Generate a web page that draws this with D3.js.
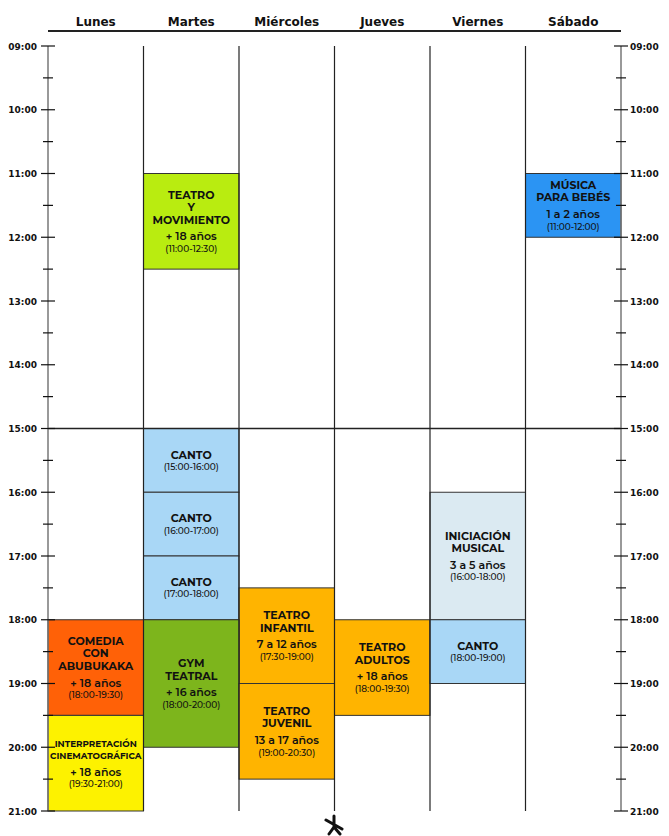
<!DOCTYPE html>
<html lang="es">
<head>
<meta charset="utf-8">
<script src="https://cdn.jsdelivr.net/npm/d3@7"></script>
<style>
  body { margin: 0; background: #fff; }
  text { font-family: "Montserrat", "Inter", "DejaVu Sans", sans-serif; }
  text.hdr { font-family: "DejaVu Sans", sans-serif; }
</style>
</head>
<body>
<script>
// schedule data
var days = ["Lunes", "Martes", "Miércoles", "Jueves", "Viernes", "Sábado"];
var hourTicks = ["09:00","10:00","11:00","12:00","13:00","14:00","15:00","16:00","17:00","18:00","19:00","20:00","21:00"];
var classTitles = [
  ["TEATRO", "Y", "MOVIMIENTO"], ["MÚSICA", "PARA BEBÉS"],
  ["CANTO"], ["CANTO"], ["CANTO"], ["INICIACIÓN", "MUSICAL"],
  ["TEATRO", "INFANTIL"], ["TEATRO", "ADULTOS"], ["CANTO"],
  ["COMEDIA", "CON", "ABUBUKAKA"], ["GYM", "TEATRAL"], ["TEATRO", "JUVENIL"],
  ["INTERPRETACIÓN", "CINEMATOGRÁFICA"]
];
var classAges = ["+ 18 años", "1 a 2 años", "", "", "", "3 a 5 años", "7 a 12 años", "+ 18 años", "", "+ 18 años", "+ 16 años", "13 a 17 años", "+ 18 años"];
var classDay = [1, 5, 1, 1, 1, 4, 2, 3, 4, 0, 1, 2, 0];
var classStart = [11, 11, 15, 16, 17, 16, 17.5, 18, 18, 18, 18, 19, 19.5];
var classEnd = [12.5, 12, 16, 17, 18, 18, 19, 19.5, 19, 19.5, 20, 20.5, 21];
var classColor = ["#b9ec10", "#2b94f3", "#a9d7f6", "#a9d7f6", "#a9d7f6", "#dbeaf2", "#ffb400", "#ffb400", "#a9d7f6", "#ff6107", "#7db51c", "#ffb400", "#fdf200"];

var W = 669, H = 836;
var svg = d3.select("body").append("svg").attr("width", W).attr("height", H);

var x = d3.scaleBand().domain(days).range([48, 621]);
var y = d3.scaleLinear().domain([9, 21]).range([46, 811]);
function fmt(h) { var hh = Math.floor(h), mm = Math.round((h - hh) * 60); return (hh < 10 ? "0" : "") + hh + ":" + (mm < 10 ? "0" : "") + mm; }

// blocks
var classes = classDay.map(function(d, i) { return {i: i, day: days[d], s: classStart[i], e: classEnd[i]}; });
var g = svg.selectAll("g.cls").data(classes).enter().append("g").attr("class", "cls");
g.append("rect")
  .attr("x", function(d) { return x(d.day); })
  .attr("y", function(d) { return y(d.s); })
  .attr("width", x.bandwidth())
  .attr("height", function(d) { return y(d.e) - y(d.s); })
  .attr("fill", function(d) { return classColor[d.i]; })
  .attr("stroke", "#333").attr("stroke-width", 1);

g.each(function(d) {
  var sel = d3.select(this);
  var lines = [];
  classTitles[d.i].forEach(function(t) { lines.push({t: t, size: t.length > 11 ? 8.8 : 11, bold: 700, h: 12.5}); });
  if (classAges[d.i]) lines.push({t: classAges[d.i], size: 11, bold: 600, h: 14, gap: 3});
  lines.push({t: "(" + fmt(d.s) + "-" + fmt(d.e) + ")", size: 9, bold: 500, h: 11});
  var total = d3.sum(lines, function(l) { return l.h + (l.gap || 0); });
  var cy = (y(d.s) + y(d.e)) / 2 - total / 2;
  var cx = x(d.day) + x.bandwidth() / 2;
  lines.forEach(function(l) {
    cy += (l.gap || 0);
    sel.append("text").attr("x", cx).attr("y", cy + l.h * 0.8)
      .attr("text-anchor", "middle").attr("font-size", l.size).attr("font-weight", l.bold)
      .attr("fill", "#111").text(l.t);
    cy += l.h;
  });
});

// column separators
svg.selectAll("line.col").data(days.slice(1)).enter().append("line")
  .attr("x1", function(d) { return x(d); }).attr("x2", function(d) { return x(d); })
  .attr("y1", y(9)).attr("y2", y(21)).attr("stroke", "#222").attr("stroke-width", 1.2);

// 15:00 divider
svg.append("line").attr("x1", 48).attr("x2", 621).attr("y1", y(15)).attr("y2", y(15))
  .attr("stroke", "#222").attr("stroke-width", 1.5);

// headers
svg.append("line").attr("x1", 48).attr("x2", 621).attr("y1", 31).attr("y2", 31)
  .attr("stroke", "#222").attr("stroke-width", 2);
svg.selectAll("text.day").data(days).enter().append("text").attr("class", "hdr")
  .attr("x", function(d) { return x(d) + x.bandwidth() / 2; }).attr("y", 26)
  .attr("text-anchor", "middle").attr("font-size", 12).attr("font-weight", 700)
  .attr("fill", "#111").text(function(d) { return d; });

// time axes
var half = d3.range(9.5, 21, 1);
[48, 621].forEach(function(ax, k) {
  svg.append("line").attr("x1", ax).attr("x2", ax).attr("y1", y(9)).attr("y2", y(21))
    .attr("stroke", "#777").attr("stroke-width", 1.5);
  svg.selectAll(null).data(hourTicks).enter().append("line")
    .attr("x1", ax - 7).attr("x2", ax + 7)
    .attr("y1", function(d, i) { return y(9 + i); }).attr("y2", function(d, i) { return y(9 + i); })
    .attr("stroke", "#111").attr("stroke-width", 1.2);
  svg.selectAll(null).data(half).enter().append("line")
    .attr("x1", ax - 5).attr("x2", ax + 5)
    .attr("y1", function(d) { return y(d); }).attr("y2", function(d) { return y(d); })
    .attr("stroke", "#111").attr("stroke-width", 1.2);
  svg.selectAll(null).data(hourTicks).enter().append("text").attr("class", "hdr")
    .attr("x", k === 0 ? 37 : 630).attr("y", function(d, i) { return y(9 + i) + 3.5; })
    .attr("text-anchor", k === 0 ? "end" : "start")
    .attr("font-size", 9).attr("font-weight", 700)
    .attr("fill", "#111").text(function(d) { return d; });
});

// small logo mark
svg.append("path").attr("transform", "translate(334,825)")
  .attr("d", "M-8,-5 L8,4 M0,-9 L0,2 L-5,9 M0,2 L6,9")
  .attr("stroke", "#111").attr("stroke-width", 3).attr("fill", "none").attr("stroke-linecap", "round");
</script>
</body>
</html>
